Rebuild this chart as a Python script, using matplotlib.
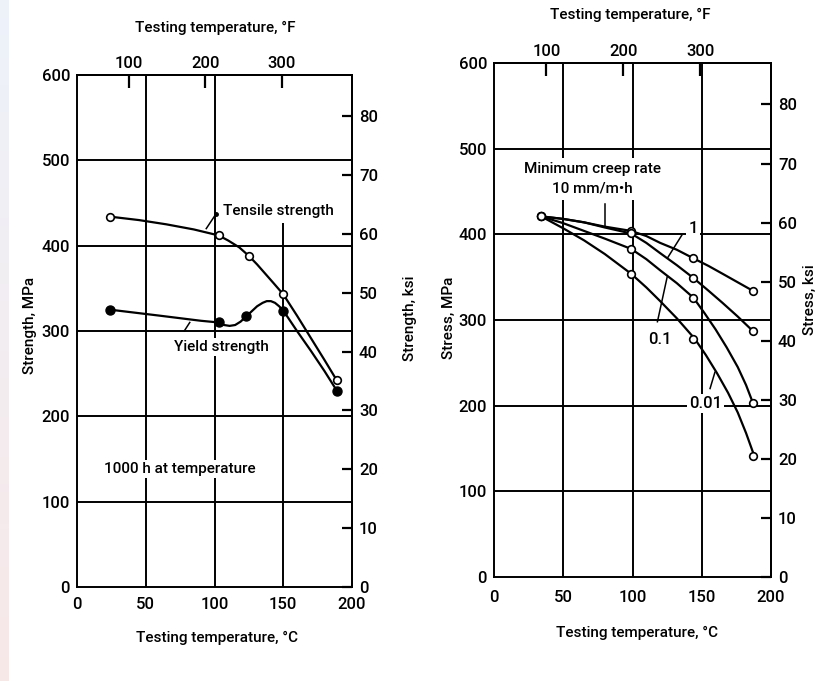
import numpy as np
import matplotlib
matplotlib.use("Agg")
import matplotlib.pyplot as plt

plt.rcParams["font.family"] = ["Roboto", "DejaVu Sans"]
plt.rcParams["font.weight"] = "medium"
plt.rcParams["font.size"] = 11

FS = 11
TS = 12
W, H = 823, 681

# ---- Left panel: strength after 1000 h at temperature ----
tensile_T = [24, 103, 125, 150, 189]
tensile_S = [434, 412, 388, 343, 242]
tensile_curve_T = [24, 45, 65, 85, 103, 110, 118, 125, 131, 137, 143, 150, 160, 170, 180, 189]
tensile_curve_S = [434, 430, 425, 419, 412, 406, 398, 388, 378, 367, 356, 343, 318, 292, 266, 242]

yield_T = [24, 103, 123, 150, 189]
yield_S = [325, 310, 317, 324, 230]
yield_curve_T = [24, 60, 90, 103, 107, 111, 115, 119, 123, 127, 131, 135, 138, 141, 144, 147, 150,
                 160, 170, 180, 189]
yield_curve_S = [325, 318, 312, 310, 307, 306, 307, 311, 317, 323, 329, 333, 335, 335, 333, 329, 324,
                 300, 277, 253, 230]

# ---- Right panel: stress for given minimum creep rate ----
creep_T = [34, 99, 144, 187]
creep10_S = [421, 404, 372, 334]
creep1_S = [421, 401, 349, 287]
creep01_S = [421, 383, 326, 203]
creep001_S = [421, 354, 278, 141]

creep10_curve_T = [34, 50, 65, 80, 99, 110, 120, 132, 144, 155, 165, 176, 187]
creep10_curve_S = [421, 418, 414, 409, 404, 398, 390, 382, 372, 363, 354, 344, 334]
creep1_curve_T = [34, 50, 65, 80, 99, 110, 120, 132, 144, 155, 165, 176, 187]
creep1_curve_S = [421, 418, 414, 408, 401, 390, 378, 364, 349, 334, 320, 304, 287]
creep01_curve_T = [34, 50, 65, 80, 99, 110, 120, 132, 144, 152, 160, 168, 176, 182, 187]
creep01_curve_S = [421, 413, 404, 395, 383, 371, 358, 343, 326, 308, 289, 268, 245, 224, 203]
creep001_curve_T = [34, 50, 65, 80, 99, 110, 120, 132, 145, 153, 161, 169, 176, 182, 188]
creep001_curve_S = [421, 407, 393, 377, 354, 338, 322, 302, 278, 259, 238, 215, 192, 168, 141]

x_ticks_C = [0, 50, 100, 150, 200]
y_ticks_MPa = [0, 100, 200, 300, 400, 500, 600]
top_ticks_F = [100, 200, 300]
right_ticks_ksi = [0, 10, 20, 30, 40, 50, 60, 70, 80]


def c2f(c):
    return np.asarray(c) * 9.0 / 5.0 + 32.0


def f2c(f):
    return (np.asarray(f) - 32.0) * 5.0 / 9.0


def mpa2ksi(m):
    return np.asarray(m) / 6.895


def ksi2mpa(k):
    return np.asarray(k) * 6.895


def fx(x):
    return x / W


def fy(y):
    return 1 - y / H


fig = plt.figure(figsize=(W / 100, H / 100), dpi=100)
fig.patch.set_facecolor("white")

# faint tint on the far left edge
edge = fig.add_axes([0, 0, 9 / W, 1])
grad = np.linspace(0, 1, 256)[:, None, None]
top_c = np.array([0.93, 0.95, 0.98])
bot_c = np.array([0.97, 0.91, 0.91])
edge.imshow(top_c * (1 - grad) + bot_c * grad, aspect="auto", extent=[0, 1, 0, 1])
edge.axis("off")

LW = 1.6
GW = 1.4
box = dict(facecolor="white", edgecolor="none", pad=1.5)


def setup(ax, vlines, xpad):
    ax.set_xlim(0, 200)
    ax.set_ylim(0, 600)
    for s in ax.spines.values():
        s.set_linewidth(GW)
    ax.set_xticks(x_ticks_C)
    ax.set_yticks(y_ticks_MPa)
    ax.tick_params(axis="both", length=0, labelsize=TS)
    ax.tick_params(axis="x", pad=xpad)
    ax.tick_params(axis="y", pad=5)
    for y in y_ticks_MPa[1:-1]:
        ax.axhline(y, color="black", lw=GW, zorder=1)
    for x, ymax in vlines:
        ax.plot([x, x], [0, ymax], color="black", lw=GW, zorder=1,
                solid_capstyle="butt")
    top = ax.secondary_xaxis("top", functions=(c2f, f2c))
    top.set_xticks(top_ticks_F)
    top.tick_params(direction="in", length=9, width=1.6, pad=3, labelsize=TS)
    top.spines["top"].set_linewidth(GW)
    right = ax.secondary_yaxis("right", functions=(mpa2ksi, ksi2mpa))
    right.set_yticks(right_ticks_ksi)
    right.tick_params(direction="in", length=7, width=1.6, pad=5, labelsize=TS)
    right.spines["right"].set_linewidth(GW)
    return top, right


# Left panel
axL = fig.add_axes([fx(77), fy(587), (352 - 77) / W, (587 - 75) / H])
setup(axL, [(50, 600), (100, 600), (150, 426)], xpad=7)
axL.plot(tensile_curve_T, tensile_curve_S, color="black", lw=LW, zorder=3)
axL.plot(tensile_T, tensile_S, "o", ms=5.5, mfc="white", mec="black", mew=1.2, zorder=4)
axL.plot(yield_curve_T, yield_curve_S, color="black", lw=LW, zorder=3)
axL.plot(yield_T, yield_S, "o", ms=6.5, mfc="black", mec="black", zorder=4)

axL.text(106, 441, "Tensile strength", fontsize=FS, ha="left", va="center",
         bbox=box, zorder=5)
axL.plot([94, 101], [420, 437], color="black", lw=1.1, zorder=5)
axL.plot([101], [437], "o", ms=2.5, color="black", zorder=5)
axL.text(105, 281, "Yield strength", fontsize=FS, ha="center", va="center",
         bbox=box, zorder=5)
axL.plot([78, 82], [300, 310], color="black", lw=1.1, zorder=5)
axL.text(75, 138, "1000 h at temperature", fontsize=FS, ha="center", va="center",
         bbox=box, zorder=5)

# Right panel
axR = fig.add_axes([fx(494), fy(577), (771 - 494) / W, (577 - 63) / H])
setup(axR, [(50, 600), (100, 600), (150, 600)], xpad=9)
for ct, cs, s in [(creep10_curve_T, creep10_curve_S, creep10_S),
                  (creep1_curve_T, creep1_curve_S, creep1_S),
                  (creep01_curve_T, creep01_curve_S, creep01_S),
                  (creep001_curve_T, creep001_curve_S, creep001_S)]:
    axR.plot(ct, cs, color="black", lw=LW, zorder=3)
    axR.plot(creep_T, s, "o", ms=5.5, mfc="white", mec="black", mew=1.2, zorder=4)

axR.text(71, 465, "Minimum creep rate\n10 mm/m\u2022h", fontsize=FS, ha="center",
         va="center", linespacing=1.5, bbox=dict(facecolor="white", edgecolor="none", pad=3),
         zorder=5)
axR.plot([80, 80], [408, 435], color="black", lw=1.1, zorder=5)
axR.text(143.6, 407, "1", fontsize=TS, ha="center", va="center", bbox=box, zorder=5)
axR.plot([125.5, 135.6], [373, 399], color="black", lw=1.1, zorder=5)
axR.text(120, 277, "0.1", fontsize=TS, ha="center", va="center", bbox=box, zorder=5)
axR.plot([118, 125], [298, 350], color="black", lw=1.1, zorder=5)
axR.text(153, 202, "0.01", fontsize=TS, ha="center", va="center", bbox=box, zorder=5)
axR.plot([156, 159.5], [220, 239], color="black", lw=1.1, zorder=5)

# Axis titles
fig.text(fx(215), fy(28), "Testing temperature, \u00b0F", ha="center", va="center", fontsize=FS)
fig.text(fx(217), fy(638), "Testing temperature, \u00b0C", ha="center", va="center", fontsize=FS)
fig.text(fx(30), fy(325), "Strength, MPa", ha="center", va="center", rotation=90, fontsize=FS)
fig.text(fx(410), fy(318), "Strength, ksi", ha="center", va="center", rotation=90, fontsize=FS)

fig.text(fx(630), fy(15), "Testing temperature, \u00b0F", ha="center", va="center", fontsize=FS)
fig.text(fx(637), fy(633), "Testing temperature, \u00b0C", ha="center", va="center", fontsize=FS)
fig.text(fx(449), fy(318), "Stress, MPa", ha="center", va="center", rotation=90, fontsize=FS)
fig.text(fx(810), fy(300), "Stress, ksi", ha="center", va="center", rotation=90, fontsize=FS)

fig.savefig("out.png", dpi=100)
